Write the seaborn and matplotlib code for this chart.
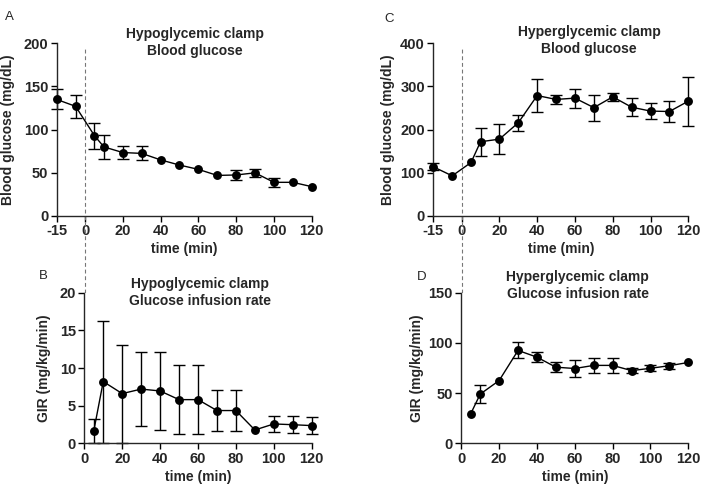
import numpy as np
import pandas as pd
import matplotlib
matplotlib.use("Agg")
import matplotlib.pyplot as plt
import matplotlib.transforms as mtransforms
import seaborn as sns

nan = np.nan

# time points
t_bg = [-15, -5, 5, 10, 20, 30, 40, 50, 60, 70, 80, 90, 100, 110, 120]
t_gir = [5, 10, 20, 30, 40, 50, 60, 70, 80, 90, 100, 110, 120]

# hypoglycemic clamp, blood glucose (mg/dL), mean and sem (nan = hidden by symbol)
hypo_bg = [135, 127, 93, 80, 73.5, 72.5, 65, 59, 54, 47, 47.5, 50, 39, 39, 34]
hypo_bg_err = [11.5, 13, 15, 14, 7, 8, nan, nan, nan, nan, 5.5, 5, 5.5, nan, nan]

# hyperglycemic clamp, blood glucose (mg/dL)
hyper_bg = [114, 93, 124, 172, 178, 216, 279, 270, 273, 251, 276, 252, 243, 242, 266]
hyper_bg_err = [8, nan, nan, 32, 34, 18, 38, 10, 22, 30, 10, 21, 19, 25, 57]

# hypoglycemic clamp, glucose infusion rate (mg/kg/min)
hypo_gir = [1.65, 8.2, 6.6, 7.2, 6.95, 5.8, 5.8, 4.35, 4.35, 1.77, 2.57, 2.47, 2.35]
hypo_gir_err = [1.55, 8.1, 6.5, 4.95, 5.2, 4.55, 4.55, 2.7, 2.7, nan, 1.1, 1.1, 1.1]

# hyperglycemic clamp, glucose infusion rate (mg/kg/min)
hyper_gir = [29.5, 49, 62.5, 92.5, 85.8, 75.8, 74.5, 77.6, 77.6, 72.4, 74.7, 77.3, 80.5]
hyper_gir_err = [nan, 9.3, nan, 8, 4.7, 4.7, 8.4, 7.3, 7.3, 2.6, 2.8, 2.8, nan]

bg_xticks = [-15, 0, 20, 40, 60, 80, 100, 120]
gir_xticks = [0, 20, 40, 60, 80, 100, 120]

sns.set_style("ticks")
plt.rcParams["font.family"] = ["Liberation Sans", "DejaVu Sans"]
plt.rcParams["axes.linewidth"] = 1.0

W, H = 703, 495
fig = plt.figure(figsize=(W / 100, H / 100), dpi=100)


def px_axes(left, right, top, bottom):
    return fig.add_axes([left / W, 1 - bottom / H, (right - left) / W, (bottom - top) / H])


axA = px_axes(56.7, 311.7, 43.3, 216)
axB = px_axes(84.3, 311.7, 292.7, 443.3)
axC = px_axes(433.3, 688.3, 43.3, 216)
axD = px_axes(461.3, 688.3, 292.7, 443.3)


def draw(ax, t, y, err, xticks, yticks, ylabel, ypad):
    df = pd.DataFrame({"time": t, "value": y})
    eb = ax.errorbar(t, y, yerr=err, fmt="none", ecolor="black", elinewidth=1.0,
                     capsize=4, capthick=1.0, zorder=2)
    for art in eb.lines[1] + eb.lines[2]:
        art.set_clip_on(False)
    sns.lineplot(data=df, x="time", y="value", ax=ax, color="black", linewidth=1.0,
                 marker="o", markersize=6.4, markeredgewidth=0, zorder=3, clip_on=False)
    ax.set_xlim(xticks[0], xticks[-1])
    ax.set_ylim(yticks[0], yticks[-1])
    ax.set_xticks(xticks, labels=[str(v) for v in xticks], fontsize=10.5, fontweight="bold")
    ax.set_yticks(yticks, labels=[str(v) for v in yticks], fontsize=10.5, fontweight="bold")
    ax.set_xlabel("time (min)", fontsize=10, fontweight="bold", labelpad=3)
    ax.set_ylabel(ylabel, fontsize=10, fontweight="bold", labelpad=ypad)
    ax.tick_params(axis="both", length=4, width=1.0, pad=2, color="black")
    sns.despine(ax=ax)


draw(axA, t_bg, hypo_bg, hypo_bg_err, bg_xticks, [0, 50, 100, 150, 200],
     "Blood glucose (mg/dL)", 6)
draw(axC, t_bg, hyper_bg, hyper_bg_err, bg_xticks, [0, 100, 200, 300, 400],
     "Blood glucose (mg/dL)", 4)
draw(axB, t_gir, hypo_gir, hypo_gir_err, gir_xticks, [0, 5, 10, 15, 20],
     "GIR (mg/kg/min)", 6)
draw(axD, t_gir, hyper_gir, hyper_gir_err, gir_xticks, [0, 50, 100, 150],
     "GIR (mg/kg/min)", 3)

# dashed line at clamp start, from the upper panel down to the lower one
for top_ax, bot_ax in [(axA, axB), (axC, axD)]:
    tr = mtransforms.blended_transform_factory(top_ax.transData, fig.transFigure)
    y_top = top_ax.get_position().y1 - 3.4 / H
    y_bot = bot_ax.get_position().y1
    top_ax.plot([0, 0], [y_bot, y_top], transform=tr, clip_on=False,
                color="#777777", linewidth=0.8, linestyle=(0, (3.5, 2.5)), zorder=1)

titles = [
    ("Hypoglycemic clamp\nBlood glucose", 195, 42.5),
    ("Hyperglycemic clamp\nBlood glucose", 589, 40.5),
    ("Hypoglycemic clamp\nGlucose infusion rate", 200, 292.5),
    ("Hyperglycemic clamp\nGlucose infusion rate", 577.7, 285.5),
]
for txt, x, y in titles:
    fig.text(x / W, 1 - y / H, txt, ha="center", va="center", fontsize=10,
             fontweight="bold", linespacing=1.25)

for letter, x, y in [("A", 9, 17), ("C", 389, 19), ("B", 43, 276), ("D", 421.5, 277)]:
    fig.text(x / W, 1 - y / H, letter, ha="center", va="center", fontsize=9.5)

fig.savefig("out.png", dpi=100)
